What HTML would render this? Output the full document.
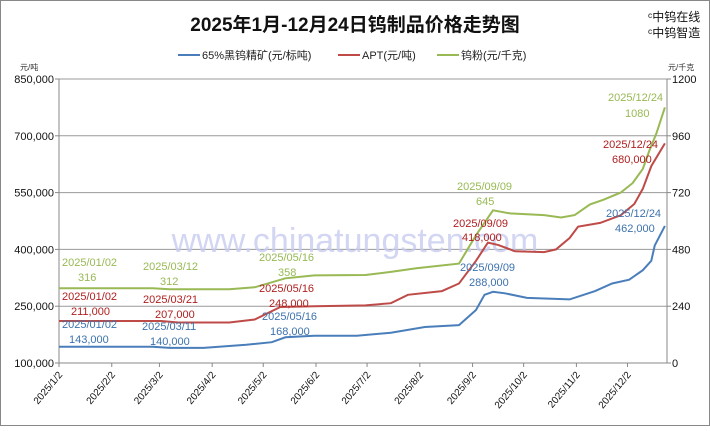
<!DOCTYPE html>
<html><head><meta charset="utf-8"><style>
body{margin:0;background:#fff;}
svg text{font-family:"Liberation Sans","Noto Sans CJK SC",sans-serif;}
</style></head><body>
<svg id="s" width="710" height="426" viewBox="0 0 710 426" xmlns="http://www.w3.org/2000/svg">
<rect x="0.5" y="0.5" width="709" height="425" fill="#fff" stroke="#888"/>
<text x="355" y="31" text-anchor="middle" font-size="19" font-weight="bold" fill="#111">2025年1月-12月24日钨制品价格走势图</text>
<text x="648" y="21" font-size="12" fill="#111">ᶜ中钨在线</text>
<text x="648" y="37" font-size="12" fill="#111">ᶜ中钨智造</text>
<g font-size="11" fill="#222">
<line x1="178" y1="55" x2="200" y2="55" stroke="#4a7ebb" stroke-width="2"/><text x="202" y="59">65%黑钨精矿(元/标吨)</text>
<line x1="338" y1="55" x2="360" y2="55" stroke="#be4b48" stroke-width="2"/><text x="362" y="59">APT(元/吨)</text>
<line x1="437" y1="55" x2="459" y2="55" stroke="#98b954" stroke-width="2"/><text x="461" y="59">钨粉(元/千克)</text>
</g>
<text x="20" y="70" font-size="8" fill="#333">元/吨</text>
<text x="668" y="70" font-size="8" fill="#333">元/千克</text>
<g id="grid" stroke="#888" stroke-width="1"></g>
<g id="ax" font-size="11" fill="#111"></g>
<text x="355" y="252" text-anchor="middle" font-size="34" fill="#c8ccf0" font-family="Liberation Serif,serif" opacity="0.8">www.chinatungsten.com</text>
<g id="lines" fill="none" stroke-width="2"></g>
<g font-size="11">
<g fill="#98b954"><text x="62" y="266">2025/01/02</text><text x="78" y="281">316</text>
<text x="143" y="270">2025/03/12</text><text x="160" y="285">312</text>
<text x="259" y="261">2025/05/16</text><text x="278" y="276">358</text>
<text x="457" y="190">2025/09/09</text><text x="476" y="205">645</text>
<text x="608" y="101">2025/12/24</text><text x="625" y="117">1080</text></g>
<g fill="#b02020"><text x="62" y="300">2025/01/02</text><text x="71" y="315">211,000</text>
<text x="143" y="303">2025/03/21</text><text x="155" y="318">207,000</text>
<text x="259" y="292">2025/05/16</text><text x="269" y="307">248,000</text>
<text x="453" y="227">2025/09/09</text><text x="462" y="241">418,000</text>
<text x="603" y="148">2025/12/24</text><text x="612" y="163">680,000</text></g>
<g fill="#3d72ad"><text x="62" y="328">2025/01/02</text><text x="69" y="343">143,000</text>
<text x="142" y="330">2025/03/11</text><text x="150" y="345">140,000</text>
<text x="262" y="320">2025/05/16</text><text x="270" y="335">168,000</text>
<text x="460" y="271">2025/09/09</text><text x="469" y="286">288,000</text>
<text x="606" y="217">2025/12/24</text><text x="615" y="232">462,000</text></g>
</g>
</svg>
<script>
const NS="http://www.w3.org/2000/svg";
function el(p,t,a,txt){const e=document.createElementNS(NS,t);for(const k in a)e.setAttribute(k,a[k]);if(txt)e.textContent=txt;document.getElementById(p).appendChild(e);return e;}
const X0=59,X1=667,YB=363,ST=56.8;
for(let i=0;i<6;i++){const y=YB-i*ST;el("grid","line",{x1:X0,x2:X1,y1:y,y2:y,stroke:i==0?"#888":"#999"});
el("ax","text",{x:54,y:y+4,"text-anchor":"end"},(100000+i*150000).toLocaleString("en-US"));
el("ax","text",{x:672,y:y+4},String(i*240));
el("grid","line",{x1:X1,x2:X1+4,y1:y,y2:y});el("grid","line",{x1:X0-4,x2:X0,y1:y,y2:y});}
el("grid","line",{x1:X0,x2:X0,y1:79,y2:YB});el("grid","line",{x1:X1,x2:X1,y1:79,y2:YB});
const md=[0,31,59,90,120,151,181,212,243,273,304,334],mn=["1","2","3","4","5","6","7","8","9","10","11","12"];
const xd=d=>X0+d*1.702;
md.forEach((d,i)=>{const x=xd(d);el("grid","line",{x1:x,x2:x,y1:YB,y2:YB+4});
el("ax","text",{x:x+4,y:YB+12,"text-anchor":"end","font-size":"10",transform:`rotate(-50 ${x+4} ${YB+12})`},"2025/"+mn[i]+"/2");});
const yl=v=>YB-(v-100000)/150000*ST, yr=v=>YB-v/240*ST;
function line(data,f,c){el("lines","polyline",{stroke:c,points:data.map(p=>xd(p[0]).toFixed(1)+","+f(p[1]).toFixed(1)).join(" ")});}
line([[0,143000],[55,143000],[65,140000],[85,140000],[110,148000],[125,155000],[133,168000],[150,172000],[175,172000],[195,180000],[215,195000],[235,200000],[245,240000],[250,280000],[255,288000],[262,284000],[275,272000],[300,268000],[315,290000],[325,310000],[335,320000],[343,345000],[348,370000],[350,410000],[356,462000]],yl,"#4a7ebb");
line([[0,211000],[60,211000],[70,207000],[100,207000],[115,215000],[130,248000],[150,250000],[180,252000],[195,258000],[205,280000],[225,290000],[235,310000],[245,370000],[252,418000],[258,412000],[268,395000],[285,393000],[292,400000],[300,430000],[305,460000],[318,470000],[330,490000],[338,520000],[343,560000],[348,620000],[356,680000]],yl,"#be4b48");
line([[0,316],[55,316],[65,312],[100,312],[115,320],[133,358],[150,370],[180,372],[195,385],[210,400],[235,420],[245,540],[255,645],[265,632],[285,625],[295,615],[303,625],[312,670],[320,690],[330,720],[337,760],[343,820],[347,900],[351,970],[356,1080]],yr,"#98b954");
</script>
</body></html>
